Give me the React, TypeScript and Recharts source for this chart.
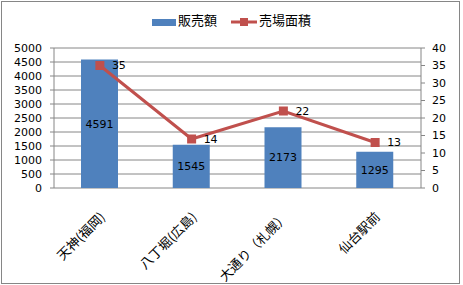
import { ComposedChart, Bar, Line, XAxis, YAxis, CartesianGrid, LabelList } from "recharts";

const CATEGORIES = ["天神(福岡)", "八丁堀(広島)", "大通り（札幌）", "仙台駅前"];
const SALES = [4591, 1545, 2173, 1295];
const FLOOR_AREA = [35, 14, 22, 13];
const SALES_TICKS = [0, 500, 1000, 1500, 2000, 2500, 3000, 3500, 4000, 4500, 5000];
const AREA_TICKS = [0, 5, 10, 15, 20, 25, 30, 35, 40];
const BOUNDARY_TICKS = [0, 1, 2, 3, 4];

const BLUE = "#4F81BD";
const RED = "#C0504D";
const GRAY = "#868686";
const NUM_FONT = "DejaVu Sans";
const CJK_FONT = "'Noto Sans CJK JP', 'Noto Sans CJK SC', sans-serif";

const data = CATEGORIES.map((name, i) => ({ name, sales: SALES[i], area: FLOOR_AREA[i] }));

function CategoryTick({ x, y, payload }: any) {
  return (
    <g transform={`translate(${x + 2},${y + 26})`}>
      <text
        textAnchor="end"
        dominantBaseline="central"
        transform="rotate(-45)"
        fontSize={13}
        fontFamily={CJK_FONT}
        fill="#000"
      >
        {payload.value}
      </text>
    </g>
  );
}

function SquareDot({ cx, cy }: any) {
  if (cx == null || cy == null) return null;
  return <rect x={cx - 4.5} y={cy - 4.5} width={9} height={9} fill={RED} />;
}

function ChartLegend() {
  return (
    <div
      style={{
        position: "absolute",
        left: 152,
        top: 11,
        height: 18,
        display: "flex",
        alignItems: "center",
        fontFamily: CJK_FONT,
        fontSize: 13,
        color: "#000",
        lineHeight: "18px",
      }}
    >
      <span style={{ display: "block", width: 24, height: 7, background: BLUE, marginTop: 5 }} />
      <span style={{ marginLeft: 2 }}>販売額</span>
      <svg width={26} height={12} style={{ marginLeft: 14, marginTop: 3 }}>
        <line x1={0} y1={6} x2={26} y2={6} stroke={RED} strokeWidth={3} />
        <rect x={9} y={2} width={8} height={8} fill={RED} />
      </svg>
      <span style={{ marginLeft: 2 }}>売場面積</span>
    </div>
  );
}

export default function App() {
  return (
    <div style={{ position: "absolute", left: 0, top: 0, width: 463, height: 285, background: "#fff" }}>
      <ComposedChart width={463} height={285} data={data} margin={{ top: 48, right: 2, left: 0, bottom: 0 }}>
        <CartesianGrid xAxisId="cat" yAxisId="left" vertical={false} stroke={GRAY} />
        <XAxis
          xAxisId="bounds"
          type="number"
          domain={[0, 4]}
          ticks={BOUNDARY_TICKS}
          allowDataOverflow
          tick={false}
          height={0}
          tickSize={4}
          axisLine={{ stroke: GRAY }}
          tickLine={{ stroke: GRAY }}
        />
        <XAxis
          xAxisId="cat"
          dataKey="name"
          height={97}
          interval={0}
          axisLine={false}
          tickLine={false}
          tickSize={0}
          tickMargin={0}
          tick={<CategoryTick />}
        />
        <YAxis
          yAxisId="left"
          width={54}
          domain={[0, 5000]}
          ticks={SALES_TICKS}
          interval={0}
          tickSize={4}
          tickMargin={8}
          axisLine={{ stroke: GRAY }}
          tickLine={{ stroke: GRAY }}
          tick={{ fill: "#000", fontSize: 11, fontFamily: NUM_FONT }}
        />
        <YAxis
          yAxisId="right"
          orientation="right"
          width={40}
          domain={[0, 40]}
          ticks={AREA_TICKS}
          interval={0}
          tickSize={4}
          tickMargin={7}
          axisLine={{ stroke: GRAY }}
          tickLine={{ stroke: GRAY }}
          tick={{ fill: "#000", fontSize: 11, fontFamily: NUM_FONT }}
        />
        <Bar xAxisId="cat" yAxisId="left" dataKey="sales" fill={BLUE} barSize={37} isAnimationActive={false}>
          <LabelList dataKey="sales" position="center" fill="#000" fontSize={11} fontFamily={NUM_FONT} />
        </Bar>
        <Line
          xAxisId="cat"
          yAxisId="right"
          dataKey="area"
          stroke={RED}
          strokeWidth={3}
          dot={<SquareDot />}
          activeDot={false}
          isAnimationActive={false}
        >
          <LabelList dataKey="area" position="right" offset={12} fill="#000" fontSize={11} fontFamily={NUM_FONT} />
        </Line>
      </ComposedChart>
      <ChartLegend />
      <div
        style={{
          position: "absolute",
          left: 1,
          top: 1,
          width: 459,
          height: 283,
          boxSizing: "border-box",
          border: `1px solid ${GRAY}`,
          pointerEvents: "none",
        }}
      />
    </div>
  );
}
